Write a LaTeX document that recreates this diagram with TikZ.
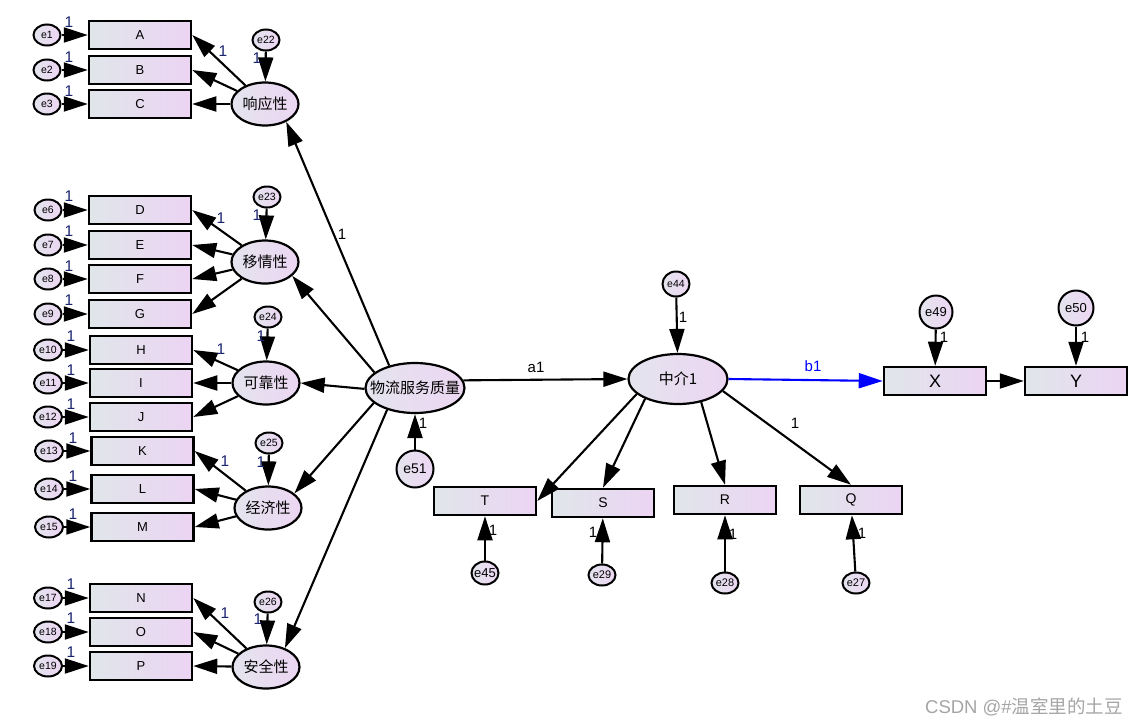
\documentclass[tikz,border=0pt]{standalone}
\usepackage{fontspec}
\setmainfont{Liberation Sans}
\newfontfamily\cjkf{Noto Sans CJK SC}
\usetikzlibrary{arrows.meta,shapes.geometric}
\definecolor{bxL}{RGB}{224,230,234}
\definecolor{bxR}{RGB}{236,212,243}
\definecolor{elL}{RGB}{228,228,238}
\definecolor{elR}{RGB}{236,214,242}
\definecolor{navy}{RGB}{25,35,110}
\definecolor{wmgray}{RGB}{165,165,165}
\begin{document}
\begin{tikzpicture}[x=1pt,y=-1pt,
  obs/.style={draw, line width=2.5pt, minimum width=102pt, minimum height=28pt, inner sep=0pt,
    left color=bxL, right color=bxR, font=\fontsize{13}{13}\selectfont},
  lat/.style={ellipse, draw, line width=2.2pt, minimum width=67pt, minimum height=43pt, inner sep=0pt,
    left color=elL, right color=elR, font=\cjkf\fontsize{15}{15}\selectfont},
  err/.style={ellipse, draw, line width=2pt, minimum width=27pt, minimum height=21pt, inner sep=0pt,
    left color=elL, right color=elR, font=\fontsize{10.5}{10.5}\selectfont},
  arr/.style={line width=2.1pt, -{Triangle[length=24pt,width=15pt]}},
  one/.style={font=\fontsize{15.5}{15.5}\selectfont, text=navy, inner sep=0pt},
  oneb/.style={font=\fontsize{15}{15}\selectfont, text=black, inner sep=0pt},
]
\fill[white] (0,0) rectangle (1138,726);
\useasboundingbox (0,0) rectangle (1138,726);

% observed indicators (left)
\node[obs] (A) at (140,35) {A};
\node[obs] (B) at (140,70) {B};
\node[obs] (C) at (140,104) {C};
\node[obs] (D) at (140,210) {D};
\node[obs] (E) at (140,245) {E};
\node[obs] (F) at (140,279) {F};
\node[obs] (G) at (140,314) {G};
\node[obs] (H) at (141,350) {H};
\node[obs] (I) at (141,383) {I};
\node[obs] (J) at (141,417) {J};
\node[obs] (K) at (142.5,451) {K};
\node[obs] (L) at (142.5,489) {L};
\node[obs] (M) at (142.5,527) {M};
\node[obs] (N) at (141,598) {N};
\node[obs] (O) at (141,632) {O};
\node[obs] (P) at (141,666) {P};

% error terms (left)
\node[err] (e1) at (47,35) {\makebox[0pt]{e1}};
\node[err] (e2) at (47,70) {\makebox[0pt]{e2}};
\node[err] (e3) at (47,104) {\makebox[0pt]{e3}};
\node[err] (e6) at (48,210) {\makebox[0pt]{e6}};
\node[err] (e7) at (48,245) {\makebox[0pt]{e7}};
\node[err] (e8) at (48,279) {\makebox[0pt]{e8}};
\node[err] (e9) at (48,314) {\makebox[0pt]{e9}};
\node[err, minimum width=28pt] (e10) at (48,350) {\makebox[0pt]{e10}};
\node[err, minimum width=28pt] (e11) at (48,383) {\makebox[0pt]{e11}};
\node[err, minimum width=28pt] (e12) at (48,417) {\makebox[0pt]{e12}};
\node[err, minimum width=28pt] (e13) at (49,451) {\makebox[0pt]{e13}};
\node[err, minimum width=28pt] (e14) at (49,489) {\makebox[0pt]{e14}};
\node[err, minimum width=28pt] (e15) at (49,527) {\makebox[0pt]{e15}};
\node[err, minimum width=28pt] (e17) at (48,598) {\makebox[0pt]{e17}};
\node[err, minimum width=28pt] (e18) at (48,632) {\makebox[0pt]{e18}};
\node[err, minimum width=28pt] (e19) at (48,666) {\makebox[0pt]{e19}};

% first-order factors
\node[lat] (xy) at (265,104) {\makebox[0pt]{响应性}};
\node[lat] (yq) at (265,262) {\makebox[0pt]{移情性}};
\node[lat] (kk) at (266,383) {\makebox[0pt]{可靠性}};
\node[lat] (jj) at (268,508) {\makebox[0pt]{经济性}};
\node[lat] (aq) at (266,667) {\makebox[0pt]{安全性}};

\node[err] (e22) at (266,40) {\makebox[0pt]{e22}};
\node[err] (e23) at (267,197) {\makebox[0pt]{e23}};
\node[err] (e24) at (268,317) {\makebox[0pt]{e24}};
\node[err] (e25) at (269,443) {\makebox[0pt]{e25}};
\node[err] (e26) at (268,602) {\makebox[0pt]{e26}};

% second-order and mediator
\node[lat, minimum width=99pt, minimum height=50pt] (q) at (415,388) {\makebox[0pt]{物流服务质量}};
\node[err, minimum width=37pt, minimum height=37pt, font=\fontsize{14}{14}\selectfont] (e51) at (415,469) {\makebox[0pt]{e51}};
\node[lat, minimum width=99pt, minimum height=50pt] (m) at (678,379) {\makebox[0pt]{中介1}};
\node[err, minimum height=25pt] (e44) at (676,284) {\makebox[0pt]{e44}};

% right indicators
\node[obs, font=\fontsize{14}{14}\selectfont] (T) at (485,501) {T};
\node[obs, font=\fontsize{14}{14}\selectfont] (S) at (603,503) {S};
\node[obs, font=\fontsize{14}{14}\selectfont] (R) at (725,500) {R};
\node[obs, font=\fontsize{14}{14}\selectfont] (Q) at (851,500) {Q};
\node[err, minimum height=23pt, font=\fontsize{13}{13}\selectfont] (e45) at (485,573) {\makebox[0pt]{e45}};
\node[err, font=\fontsize{11}{11}\selectfont] (e29) at (602,575) {\makebox[0pt]{e29}};
\node[err, font=\fontsize{11}{11}\selectfont] (e28) at (725,583) {\makebox[0pt]{e28}};
\node[err, font=\fontsize{11}{11}\selectfont] (e27) at (856,583) {\makebox[0pt]{e27}};

\node[obs, font=\fontsize{18}{18}\selectfont] (X) at (935,381) {X};
\node[obs, font=\fontsize{18}{18}\selectfont] (Y) at (1076,381) {Y};
\node[err, minimum width=33pt, minimum height=33pt, font=\fontsize{13}{13}\selectfont] (e49) at (936,312) {\makebox[0pt]{e49}};
\node[err, minimum width=35pt, minimum height=35pt, font=\fontsize{13}{13}\selectfont] (e50) at (1076,308) {\makebox[0pt]{e50}};

% error arrows (left)
\foreach \e/\b in {e1/A,e2/B,e3/C,e6/D,e7/E,e8/F,e9/G,e10/H,e11/I,e12/J,e13/K,e14/L,e15/M,e17/N,e18/O,e19/P}
  \draw[arr] (\e) -- (\b);

% loadings
\foreach \b in {A,B,C} \draw[arr] (xy) -- (\b.east);
\foreach \b in {D,E,F,G} \draw[arr] (yq) -- (\b.east);
\foreach \b in {H,I,J} \draw[arr] (kk) -- (\b.east);
\foreach \b in {K,L,M} \draw[arr] (jj) -- (\b.east);
\foreach \b in {N,O,P} \draw[arr] (aq) -- (\b.east);

% factor errors
\draw[arr] (e22) -- (xy);
\draw[arr] (e23) -- (yq);
\draw[arr] (e24) -- (kk);
\draw[arr] (e25) -- (jj);
\draw[arr] (e26) -- (aq);

% second-order paths
\draw[arr] (q.139) -- (xy.-40);
\draw[arr] (q.159) -- (yq.-27);
\draw[arr] (q.181) -- (kk.east);
\draw[arr] (q.200) -- (jj.29);
\draw[arr] (q.218) -- (aq.45);
\draw[arr] (e51) -- (q);

% mediator
\draw[arr] (q.9) -- (m.west);
\draw[arr] (e44) -- (m);
\draw[arr] (m.200) -- (T.east);
\draw[arr] (m.211) -- (S.north);
\draw[arr] (m.-45) -- (R.north);
\draw[arr] (m.-15) -- (Q.north);
\draw[arr] (e45) -- (T);
\draw[arr] (e29) -- (S);
\draw[arr] (e28) -- (R);
\draw[arr] (e27) -- (Q);

\draw[arr, blue] (m.east) -- (X.west);
\draw[arr] (X.east) -- (Y.west);
\draw[arr] (e49) -- (X);
\draw[arr] (e50) -- (Y);

% labels "1"
\foreach \x/\y [count=\i] in {69/22,69/57,69/91,69/196,69/231,69/266,69/300,71/336,71/370,71/404,73/438,73/476,73/514,71/584,71/618,71/652}
  \node[one] (le\i) at (\x,\y) {1};
\foreach \x/\y [count=\i] in {223/51,221/218,221/349,225/461,225/613}
  \node[one] (ll\i) at (\x,\y) {1};
\foreach \x/\y [count=\i] in {257/58,257/215,261/336,261/462,258/619}
  \node[one] (lf\i) at (\x,\y) {1};
\node[oneb] (lq1) at (342,234) {1};
\node[oneb] (l51) at (423,423) {1};
\node[oneb] (l44) at (683,317) {1};
\node[oneb] (la1) at (536,367) {a1};
\node[oneb, text=blue] (lb1) at (813,366) {b1};
\node[oneb] (lqq) at (795,423) {1};
\node[oneb] (l45) at (493,530) {1};
\node[oneb] (l29) at (593,532) {1};
\node[oneb] (l28) at (733,534) {1};
\node[oneb] (l27) at (862,533) {1};
\node[oneb] (l49) at (944,337) {1};
\node[oneb] (l50) at (1085,337) {1};

% watermark
\node[anchor=east, text=wmgray, font=\fontsize{18.5}{18.5}\selectfont, inner sep=0pt] (wm) at (1123,707) {CSDN @\#{\cjkf 温室里的土豆}};
\end{tikzpicture}
\end{document}
